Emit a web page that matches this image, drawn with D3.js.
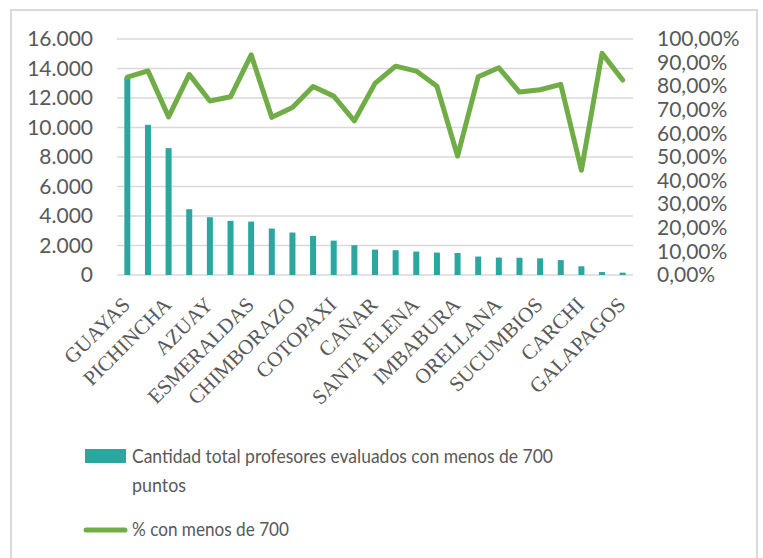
<!DOCTYPE html>
<html>
<head>
<meta charset="utf-8">
<title>Profesores evaluados con menos de 700 puntos</title>
<script src="https://d3js.org/d3.v7.min.js"></script>
<style>
  body { margin: 0; background: #fff; }
  text { fill: #595959; }
</style>
</head>
<body>
<div id="chart"></div>
<script>

// provinces, ordered by number of teachers
var provincias = ["GUAYAS", "MANABI", "PICHINCHA", "LOS RIOS", "AZUAY", "EL ORO",
  "ESMERALDAS", "LOJA", "CHIMBORAZO", "TUNGURAHUA", "COTOPAXI", "SANTO DOMINGO",
  "CAÑAR", "BOLIVAR", "SANTA ELENA", "MORONA SANTIAGO", "IMBABURA", "NAPO",
  "ORELLANA", "ZAMORA CHINCHIPE", "SUCUMBIOS", "PASTAZA", "CARCHI",
  "ZONAS NO DELIMITADAS", "GALAPAGOS"];

// Cantidad total profesores evaluados con menos de 700 puntos
var cantidad = [13400, 10180, 8600, 4460, 3920, 3670, 3620, 3150, 2880, 2650,
  2330, 2020, 1720, 1680, 1590, 1520, 1490, 1250, 1180, 1170, 1130, 1010,
  590, 200, 160];

// % con menos de 700
var porcentaje = [0.838, 0.865, 0.670, 0.850, 0.737, 0.755, 0.933, 0.668,
  0.710, 0.799, 0.758, 0.653, 0.812, 0.885, 0.864, 0.800, 0.504, 0.840,
  0.878, 0.775, 0.785, 0.808, 0.444, 0.939, 0.826];

var ticksIzq = [0, 2000, 4000, 6000, 8000, 10000, 12000, 14000, 16000];
var ticksDer = [0, 0.1, 0.2, 0.3, 0.4, 0.5, 0.6, 0.7, 0.8, 0.9, 1];

var serie1 = "Cantidad total profesores evaluados con menos de 700";
var serie1b = "puntos";
var serie2 = "% con menos de 700";

var W = 763, H = 558;
var margin = {top: 39, right: 130, bottom: 283, left: 117};
var width = 633 - margin.left,
    height = 275 - margin.top;

var svg = d3.select("#chart").append("svg")
    .attr("width", W)
    .attr("height", H);

// chart border
svg.append("path")
    .attr("d", "M11,560 V10 H757 V560")
    .attr("fill", "none")
    .attr("stroke", "#d9d9d9")
    .attr("stroke-width", 2);

var g = svg.append("g")
    .attr("transform", "translate(" + margin.left + "," + margin.top + ")");

var x = d3.scaleBand()
    .domain(provincias)
    .range([0, width]);

var y = d3.scaleLinear()
    .domain([0, 16000])
    .range([height, 0]);

var y2 = d3.scaleLinear()
    .domain([0, 1])
    .range([height, 0]);

// gridlines
g.append("g")
  .selectAll("line")
  .data(ticksIzq)
  .enter().append("line")
    .attr("x1", 0)
    .attr("x2", width)
    .attr("y1", function(d) { return y(d); })
    .attr("y2", function(d) { return y(d); })
    .attr("stroke", "#d9d9d9")
    .attr("stroke-width", 1.5);

// left axis
var fmtIzq = function(d) { return d3.format(",")(d).replace(/,/g, "."); };
var axisIzq = g.append("g")
    .attr("transform", "translate(-21,0)")
    .call(d3.axisLeft(y).tickValues(ticksIzq).tickFormat(fmtIzq).tickSize(0));
axisIzq.select(".domain").remove();
axisIzq.selectAll("text")
    .attr("fill", "#595959")
    .style("font-family", "Lato, sans-serif")
    .style("font-size", "21px");

// right axis
var fmtDer = function(d) { return d3.format(".2f")(d * 100).replace(".", ",") + "%"; };
var axisDer = g.append("g")
    .attr("transform", "translate(" + (width + 21) + ",0)")
    .call(d3.axisRight(y2).tickValues(ticksDer).tickFormat(fmtDer).tickSize(0));
axisDer.select(".domain").remove();
axisDer.selectAll("text")
    .attr("fill", "#595959")
    .style("font-family", "Lato, sans-serif")
    .style("font-size", "21px");

// bars
var bw = 6;
g.selectAll(".bar")
  .data(cantidad)
  .enter().append("rect")
    .attr("class", "bar")
    .attr("x", function(d, i) { return x(provincias[i]) + x.bandwidth() / 2 - bw / 2; })
    .attr("y", function(d) { return y(d); })
    .attr("width", bw)
    .attr("height", function(d) { return height - y(d); })
    .attr("fill", "#2aa79f");

// line
var line = d3.line()
    .x(function(d, i) { return x(provincias[i]) + x.bandwidth() / 2; })
    .y(function(d) { return y2(d); });

g.append("path")
    .datum(porcentaje)
    .attr("d", line)
    .attr("fill", "none")
    .attr("stroke", "#70ad47")
    .attr("stroke-width", 5)
    .attr("stroke-linejoin", "round")
    .attr("stroke-linecap", "round");

// category labels, every second one
g.append("g")
  .selectAll("text")
  .data(provincias.filter(function(d, i) { return i % 2 === 0; }))
  .enter().append("text")
    .attr("transform", function(d) {
      return "translate(" + (x(d) + x.bandwidth() / 2 + 4) + "," + (height + 31) + ") rotate(-45)";
    })
    .attr("text-anchor", "end")
    .style("font-family", "'Liberation Serif', serif")
    .style("font-size", "21px")
    .text(function(d) { return d; });

// legend (Calibri-like narrow text)
var legFont = function(sel) {
  sel.style("font-family", "Lato, sans-serif")
     .style("font-size", "20px")
     .attr("lengthAdjust", "spacingAndGlyphs");
};
var leg = svg.append("g");
leg.append("rect")
    .attr("x", 85).attr("y", 449)
    .attr("width", 41).attr("height", 14)
    .attr("fill", "#2aa79f");
leg.append("text")
    .attr("x", 132).attr("y", 463)
    .attr("textLength", 421)
    .call(legFont)
    .text(serie1);
leg.append("text")
    .attr("x", 132).attr("y", 492)
    .attr("textLength", 54)
    .call(legFont)
    .text(serie1b);
leg.append("line")
    .attr("x1", 86).attr("x2", 125)
    .attr("y1", 530).attr("y2", 530)
    .attr("stroke", "#70ad47")
    .attr("stroke-width", 5)
    .attr("stroke-linecap", "round");
leg.append("text")
    .attr("x", 132).attr("y", 536)
    .attr("textLength", 157)
    .call(legFont)
    .text(serie2);

</script>
</body>
</html>
